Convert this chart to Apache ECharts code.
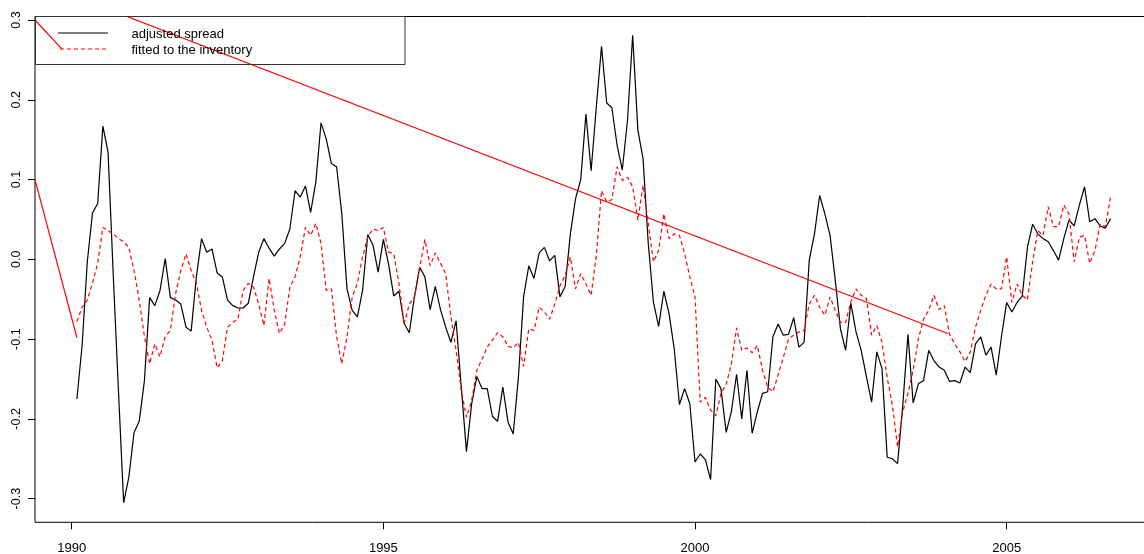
<!DOCTYPE html>
<html>
<head>
<meta charset="utf-8">
<script src="https://cdn.jsdelivr.net/npm/echarts@6/dist/echarts.min.js"></script>
<style>
html,body{margin:0;padding:0;background:#fff;}
#chart{width:1144px;height:554px;}
</style>
</head>
<body>
<div id="chart"></div>
<script>
// Monthly series starting Feb 1990
const startYear = 1990;
const startMonth = 2;

const spread = [
-0.175,-0.108,-0.003,0.058,0.070,0.167,0.134,-0.020,-0.165,-0.305,
-0.273,-0.217,-0.203,-0.152,-0.048,-0.058,-0.039,0.001,-0.048,-0.051,
-0.056,-0.085,-0.090,-0.022,0.026,0.009,0.013,-0.017,-0.022,-0.051,
-0.058,-0.061,-0.061,-0.055,-0.022,0.009,0.026,0.014,0.004,0.013,
0.020,0.038,0.086,0.078,0.092,0.059,0.097,0.171,0.151,0.120,
0.116,0.057,-0.037,-0.064,-0.072,-0.039,0.031,0.018,-0.016,0.025,
-0.006,-0.046,-0.040,-0.080,-0.092,-0.046,-0.010,-0.022,-0.063,-0.034,
-0.063,-0.085,-0.104,-0.077,-0.160,-0.241,-0.181,-0.147,-0.162,-0.162,
-0.197,-0.203,-0.160,-0.204,-0.219,-0.148,-0.047,-0.008,-0.024,0.008,
0.015,-0.002,0.005,-0.047,-0.034,0.032,0.076,0.100,0.182,0.111,
0.191,0.267,0.196,0.190,0.143,0.112,0.174,0.281,0.162,0.126,
0.020,-0.054,-0.084,-0.040,-0.068,-0.112,-0.182,-0.162,-0.181,-0.254,
-0.244,-0.251,-0.276,-0.150,-0.162,-0.217,-0.191,-0.144,-0.200,-0.139,
-0.218,-0.191,-0.168,-0.166,-0.097,-0.081,-0.095,-0.094,-0.073,-0.110,
-0.104,-0.001,0.032,0.080,0.057,0.030,-0.026,-0.087,-0.114,-0.055,
-0.091,-0.114,-0.147,-0.179,-0.116,-0.137,-0.248,-0.250,-0.256,-0.183,
-0.094,-0.180,-0.156,-0.152,-0.114,-0.127,-0.135,-0.139,-0.153,-0.152,
-0.155,-0.135,-0.142,-0.106,-0.097,-0.120,-0.110,-0.145,-0.097,-0.054,
-0.066,-0.054,-0.046,0.015,0.044,0.032,0.026,0.022,0.011,-0.001,
0.026,0.049,0.042,0.068,0.091,0.047,0.051,0.042,0.039,0.051
];

const fitted = [
-0.078,-0.060,-0.051,-0.030,-0.005,0.040,0.036,0.032,0.026,0.022,
0.015,-0.014,-0.051,-0.097,-0.131,-0.106,-0.122,-0.097,-0.089,-0.043,
-0.014,0.007,-0.014,-0.030,-0.064,-0.085,-0.101,-0.136,-0.127,-0.085,
-0.079,-0.075,-0.039,-0.030,-0.035,-0.056,-0.083,-0.024,-0.064,-0.093,
-0.081,-0.035,-0.022,0.003,0.040,0.030,0.045,0.020,-0.039,-0.037,
-0.097,-0.131,-0.097,-0.047,-0.030,0.003,0.028,0.038,0.036,0.040,
0.009,0.007,-0.030,-0.081,-0.056,-0.047,-0.010,0.025,-0.008,0.008,
-0.005,-0.018,-0.072,-0.114,-0.164,-0.198,-0.177,-0.139,-0.125,-0.110,
-0.101,-0.092,-0.097,-0.109,-0.111,-0.104,-0.134,-0.087,-0.089,-0.060,
-0.066,-0.075,-0.056,-0.033,-0.020,0.003,-0.037,-0.018,-0.031,-0.045,
0.005,0.086,0.072,0.075,0.116,0.099,0.103,0.091,0.049,0.093,
0.045,-0.003,0.011,0.057,0.026,0.032,0.030,0.007,-0.022,-0.047,
-0.179,-0.173,-0.189,-0.196,-0.168,-0.157,-0.131,-0.086,-0.114,-0.111,
-0.117,-0.108,-0.139,-0.160,-0.166,-0.145,-0.123,-0.100,-0.095,-0.091,
-0.089,-0.056,-0.045,-0.060,-0.070,-0.047,-0.064,-0.079,-0.079,-0.053,
-0.037,-0.045,-0.049,-0.095,-0.083,-0.104,-0.148,-0.183,-0.235,-0.191,
-0.168,-0.139,-0.100,-0.075,-0.064,-0.045,-0.063,-0.058,-0.094,-0.106,
-0.116,-0.128,-0.116,-0.085,-0.064,-0.045,-0.031,-0.037,-0.037,0.003,
-0.054,-0.031,-0.045,-0.051,-0.003,0.036,0.030,0.066,0.041,0.041,
0.068,0.057,-0.003,0.028,0.030,-0.005,0.011,0.044,0.041,0.078
];

// red solid reference segments as [year, value]
const refSegA = [[1989.411, 0.100], [1990.083, -0.098]];
const refSegB = [[1989.411, 0.300], [1989.844, 0.2635]];
const refSegC = [[1990.887, 0.3044], [2004.054, -0.093]];

const xTicks = [1990, 1995, 2000, 2005];
const yTicks = [-0.3, -0.2, -0.1, 0.0, 0.1, 0.2, 0.3];

const legendLabels = ['adjusted spread', 'fitted to the inventory'];

const times = spread.map((_, i) => startYear + (startMonth - 1 + i) / 12);
const spreadData = spread.map((v, i) => [times[i], v]);
const fittedData = fitted.map((v, i) => [times[i], v]);

const chart = echarts.init(document.getElementById('chart'), null, {renderer: 'canvas'});
const FONT = 'Liberation Sans, Arial, Helvetica, sans-serif';

const option = {
  animation: false,
  backgroundColor: '#fff',
  grid: {
    left: 35, top: 16.5, right: -11, bottom: 31.7,
    show: true, borderColor: '#000', borderWidth: 1,
    outerBoundsMode: 'none', containLabel: false
  },
  xAxis: {
    type: 'value', min: 1989.411, max: 2007.380, position: 'bottom',
    axisLine: {show: false, onZero: false},
    splitLine: {show: false},
    axisTick: {show: true, inside: false, length: 7, lineStyle: {color: '#000', width: 1}, customValues: xTicks},
    axisLabel: {
      customValues: xTicks, margin: 20, color: '#000', fontSize: 13, fontFamily: FONT,
      formatter: v => String(Math.round(v))
    }
  },
  yAxis: {
    type: 'value', min: -0.3296, max: 0.3044, position: 'left',
    axisLine: {show: false, onZero: false},
    splitLine: {show: false},
    axisTick: {show: true, inside: false, length: 7, lineStyle: {color: '#000', width: 1}, customValues: yTicks},
    axisLabel: {
      customValues: yTicks, rotate: 90, margin: 12, color: '#000', fontSize: 12.5, fontFamily: FONT,
      formatter: v => Number(v).toFixed(1)
    }
  },
  series: [
    {type: 'line', name: legendLabels[0], data: spreadData, symbol: 'none', clip: true,
     lineStyle: {color: '#000', width: 1.2}, z: 3},
    {type: 'line', name: legendLabels[1], data: fittedData, symbol: 'none', clip: true,
     lineStyle: {color: '#ff0000', width: 1.2, type: [4, 3]}, z: 4},
    {type: 'line', data: refSegA, symbol: 'none', clip: true, lineStyle: {color: '#ff0000', width: 1.2}, z: 5},
    {type: 'line', data: refSegB, symbol: 'none', clip: true, lineStyle: {color: '#ff0000', width: 1.2}, z: 5},
    {type: 'line', data: refSegC, symbol: 'none', clip: true, lineStyle: {color: '#ff0000', width: 1.2}, z: 5}
  ],
  graphic: [
    {type: 'rect', shape: {x: 35.5, y: 16.5, width: 369.5, height: 48}, style: {fill: 'none', stroke: '#333', lineWidth: 1}, z: 10},
    {type: 'line', shape: {x1: 58, y1: 33, x2: 108, y2: 33}, style: {stroke: '#000', lineWidth: 1.2}, z: 10},
    {type: 'line', shape: {x1: 60, y1: 49, x2: 106, y2: 49}, style: {stroke: '#ff0000', lineWidth: 1.2, lineDash: [4, 3]}, z: 10},
    {type: 'text', x: 131.5, y: 34.5, style: {text: legendLabels[0], fill: '#000', font: '13px ' + FONT, textVerticalAlign: 'middle', verticalAlign: 'middle'}, z: 10},
    {type: 'text', x: 131.5, y: 50.5, style: {text: legendLabels[1], fill: '#000', font: '13px ' + FONT, textVerticalAlign: 'middle', verticalAlign: 'middle'}, z: 10}
  ]
};
chart.setOption(option);
</script>
</body>
</html>
